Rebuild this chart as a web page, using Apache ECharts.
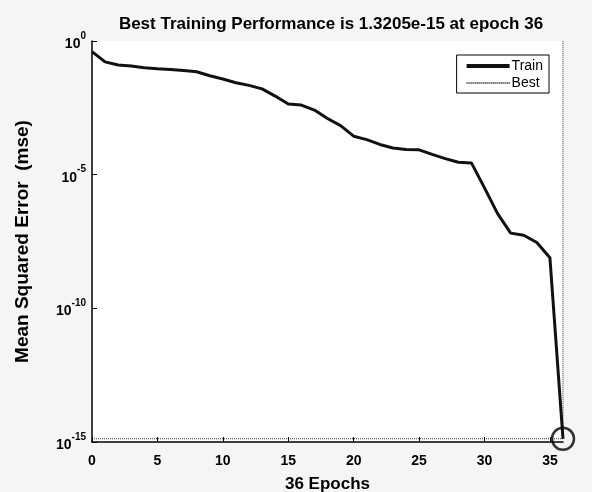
<!DOCTYPE html>
<html>
<head>
<meta charset="utf-8">
<script src="https://cdn.jsdelivr.net/npm/echarts@6/dist/echarts.min.js"></script>
<style>
  html, body { margin: 0; padding: 0; background: #f5f5f5; }
  #chart { width: 592px; height: 492px; }
</style>
</head>
<body>
<div id="chart"></div>
<script>
// training performance
var epochs = [0, 1, 2, 3, 4, 5, 6, 7, 8, 9, 10, 11, 12, 13, 14, 15, 16, 17, 18,
  19, 20, 21, 22, 23, 24, 25, 26, 27, 28, 29, 30, 31, 32, 33, 34, 35, 36]
var trainMse = [0.40, 0.166, 0.126, 0.115, 0.100, 0.091, 0.085, 0.078, 0.071, 0.050,
  0.038, 0.0275, 0.0219, 0.0162, 0.0087, 0.0044, 0.0040, 0.0026, 0.00126, 0.00068,
  0.000275, 0.000204, 0.000135, 1.0e-4, 8.7e-5, 8.5e-5, 5.75e-5, 4.0e-5, 2.9e-5, 2.75e-5,
  3.2e-6, 3.5e-7, 6.5e-8, 5.4e-8, 2.9e-8, 7.8e-9, 1.3205e-15]
var bestEpoch = 36
var bestMse = 1.3205e-15
var xTicks = [0, 5, 10, 15, 20, 25, 30, 35]

var font = 'Liberation Sans, Arial, sans-serif'

var chartDom = document.getElementById('chart')
var myChart = echarts.init(chartDom)

var trainData = epochs.map(function (e, i) { return [e, trainMse[i]] })
var bestData = [[0, bestMse], [bestEpoch, bestMse], [bestEpoch, 1]]

var option = {
  backgroundColor: '#f5f5f5',
  animation: false,
  title: {
    text: 'Best Training Performance is 1.3205e-15 at epoch 36',
    left: 326,
    textAlign: 'center',
    top: 11,
    textStyle: { fontFamily: font, fontSize: 17, fontWeight: 'bold', color: '#000' }
  },
  legend: {
    orient: 'vertical',
    right: 43,
    top: 55,
    padding: [4, 6, 3, 8],
    itemGap: 3,
    itemWidth: 43,
    itemHeight: 14,
    backgroundColor: '#fff',
    borderColor: '#000',
    borderWidth: 1,
    borderRadius: 0,
    align: 'left',
    itemStyle: { opacity: 0 },
    data: [
      { name: 'Train', lineStyle: { width: 4, color: '#111' } },
      { name: 'Best' }
    ],
    textStyle: { fontFamily: font, fontSize: 14, color: '#000', padding: [0, 0, 0, -3] }
  },
  grid: {
    left: 92,
    right: 29,
    top: 41,
    bottom: 50,
    outerBoundsMode: 'none',
    containLabel: false,
    show: true,
    backgroundColor: '#fff',
    borderWidth: 0
  },
  xAxis: {
    type: 'value',
    min: 0,
    max: 36,
    interval: 5,
    name: '36 Epochs',
    nameLocation: 'middle',
    nameGap: 34,
    nameTextStyle: { fontFamily: font, fontSize: 17, fontWeight: 'bold', color: '#000' },
    axisLine: { show: true, lineStyle: { color: '#000', width: 1.5 } },
    axisTick: { show: true, inside: true, length: 5, lineStyle: { color: '#000' } },
    axisLabel: {
      margin: 12,
      showMaxLabel: false,
      fontFamily: font, fontSize: 14, fontWeight: 'bold', color: '#000',
      formatter: function (v) { return xTicks.indexOf(v) >= 0 ? String(v) : '' }
    },
    splitLine: { show: false }
  },
  yAxis: {
    type: 'log',
    logBase: 10,
    min: 1e-15,
    max: 1,
    interval: 5,
    name: 'Mean Squared Error  (mse)',
    nameLocation: 'middle',
    nameGap: 60,
    nameTextStyle: { fontFamily: font, fontSize: 19, fontWeight: 'bold', color: '#000' },
    axisLine: { show: true, lineStyle: { color: '#000', width: 1.5 } },
    axisTick: { show: true, inside: true, length: 5, lineStyle: { color: '#000' } },
    minorTick: { show: false },
    axisLabel: {
      margin: 6,
      formatter: function (v) {
        var e = Math.round(Math.log10(v))
        return '{b|10}{s|' + e + '}'
      },
      rich: {
        b: { fontFamily: font, fontSize: 14, fontWeight: 'bold', color: '#000', lineHeight: 20, verticalAlign: 'bottom' },
        s: { fontFamily: font, fontSize: 10, fontWeight: 'bold', color: '#000', lineHeight: 20, verticalAlign: 'top' }
      }
    },
    splitLine: { show: false }
  },
  series: [
    {
      name: 'Train',
      type: 'line',
      data: trainData,
      showSymbol: false,
      symbol: 'none',
      lineStyle: { color: '#111', width: 3 },
      itemStyle: { color: '#111' },
      z: 3
    },
    {
      name: 'Best',
      type: 'line',
      data: bestData,
      showSymbol: false,
      symbol: 'none',
      lineStyle: { color: '#333', width: 1, type: [1, 1] },
      itemStyle: { color: '#333' },
      z: 2
    },
    {
      name: 'bestMark',
      type: 'scatter',
      data: [[bestEpoch, bestMse]],
      symbol: 'circle',
      symbolSize: 22,
      itemStyle: { color: 'rgba(0,0,0,0)', borderColor: '#000', borderWidth: 2.5 },
      z: 4
    }
  ]
}

option && myChart.setOption(option)
</script>
</body>
</html>
